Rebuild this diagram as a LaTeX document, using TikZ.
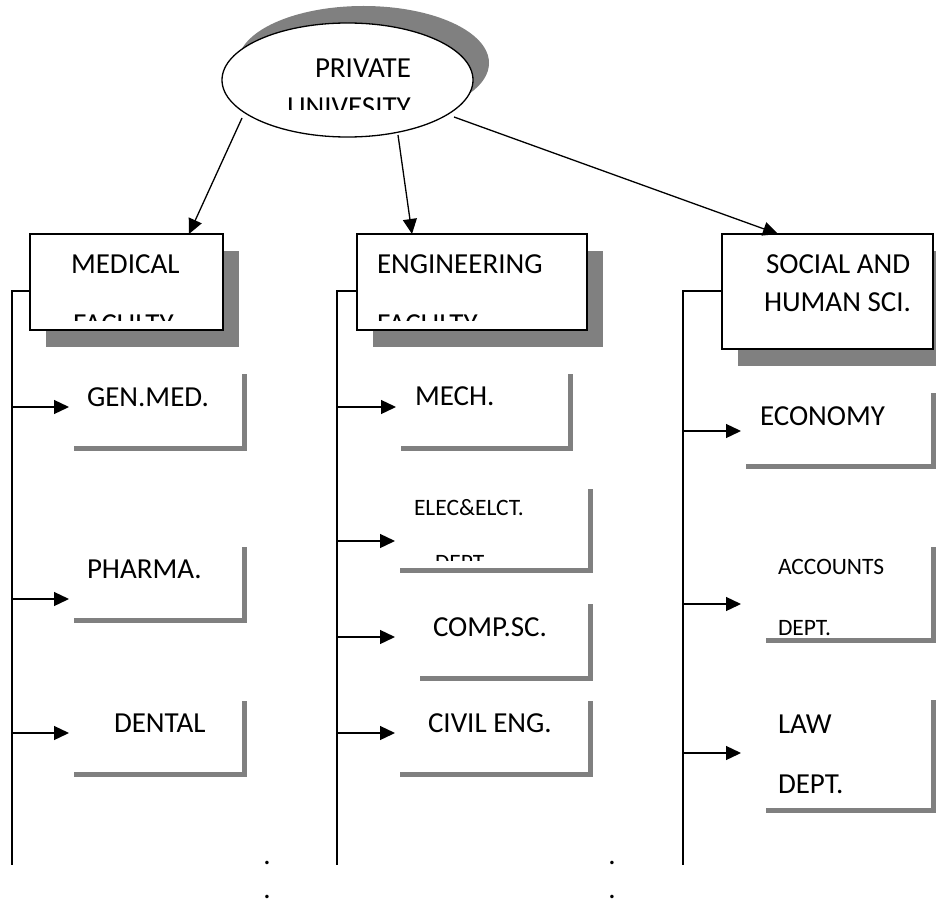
\documentclass[tikz,border=0pt]{standalone}
\usepackage{fontspec}
\setmainfont{Carlito}
\usetikzlibrary{shapes.geometric,shadows,arrows.meta,calc}
\definecolor{shgray}{HTML}{808080}
\begin{document}
\begin{tikzpicture}[x=1pt,y=-1pt,
  every node/.style={inner sep=0pt,outer sep=0pt},
  lbl/.style={anchor=base west,font=\fontsize{29}{35}\selectfont},
  lbls/.style={anchor=base west,font=\fontsize{23.5}{28}\selectfont},
  facbox/.style={draw,line width=1.4pt,fill=white,anchor=north west,
     drop shadow={shadow xshift=16pt,shadow yshift=-17pt,fill=shgray,opacity=1}},
  deptbox/.style={fill=white,anchor=north west,
     drop shadow={shadow xshift=5pt,shadow yshift=-5pt,fill=shgray,opacity=1}},
  link/.style={line width=1.3pt},
  arr/.style={line width=1.3pt,-{Triangle[length=15pt,width=14pt]}},
  dot/.style={anchor=base,font=\fontsize{29}{35}\selectfont}
]
\useasboundingbox (0,0) rectangle (936,901);

% ---- faculty boxes
\node[facbox,minimum width=193pt,minimum height=96pt] (med) at (30,234) {};
\node[facbox,minimum width=230pt,minimum height=96pt] (eng) at (357,234) {};
\node[facbox,minimum width=211pt,minimum height=115pt] (soc) at (722,234) {};

% ---- arrows from the university
\coordinate (s1) at (242,118);
\coordinate (s2) at (398,135);
\coordinate (s3) at (454,117);
\draw[arr] (s1) -- (med.north west -| 189,0);
\draw[arr] (s2) -- (eng.north west -| 412,0);
\draw[arr] (s3) -- (soc.north west -| 778,0);

% ---- university ellipse
\node[ellipse,draw,line width=1.3pt,fill=white,minimum width=251pt,minimum height=114pt,
  drop shadow={shadow xshift=16pt,shadow yshift=17pt,fill=shgray,opacity=1}] (uni) at (347.5,80) {};
\node[lbl] (t-private) at (315,78) {PRIVATE};
\begin{scope}
  \clip (230,60) rectangle (470,110);
  \node[lbl] (t-univ) at (287,116.5) {UNIVESITY};
\end{scope}

% ---- faculty texts
\node[lbl] (t-med) at (71,273) {MEDICAL};
\node[lbl] (t-eng) at (377,273) {ENGINEERING};
\begin{scope}
  \clip (31,235) rectangle (580,320);
  \node[lbl] (t-medf) at (73,333.5) {FACULTY};
  \node[lbl] (t-engf) at (377,333.5) {FACULTY};
\end{scope}
\node[lbl] (t-soc1) at (766,273) {SOCIAL AND};
\node[lbl] (t-soc2) at (764,311) {HUMAN SCI.};

% ---- department boxes
\node[deptbox,minimum width=173pt,minimum height=77pt] (gm) at (69,369) {};
\node[deptbox,minimum width=173pt,minimum height=76pt] (ph) at (69,542) {};
\node[deptbox,minimum width=173pt,minimum height=76pt] (de) at (69,696) {};
\node[deptbox,minimum width=172pt,minimum height=77pt] (me) at (396,369) {};
\node[deptbox,minimum width=193pt,minimum height=84pt] (el) at (395,484) {};
\node[deptbox,minimum width=173pt,minimum height=77pt] (cs) at (415,599) {};
\node[deptbox,minimum width=193pt,minimum height=76pt] (ce) at (395,696) {};
\node[deptbox,minimum width=190pt,minimum height=76pt] (ec) at (741,388) {};
\node[deptbox,minimum width=170pt,minimum height=96pt] (ac) at (761,542) {};
\node[deptbox,minimum width=170pt,minimum height=113pt] (la) at (761,695) {};

% ---- department texts
\node[lbl] (t-gm) at (87,406) {GEN.MED.};
\node[lbl] (t-ph) at (87,578) {PHARMA.};
\node[lbl] (t-de) at (114,732) {DENTAL};
\node[lbl] (t-me) at (415,405) {MECH.};
\node[lbls] (t-el) at (414,515) {ELEC\&ELCT.};
\begin{scope}
  \clip (396,485) rectangle (587,560);
  \node[lbls] (t-eld) at (435,570) {DEPT.};
\end{scope}
\node[lbl] (t-cs) at (433,636) {COMP.SC.};
\node[lbl] (t-ce) at (428,732) {CIVIL ENG.};
\node[lbl] (t-ec) at (760,425) {ECONOMY};
\node[lbls] (t-ac1) at (778,574) {ACCOUNTS};
\node[lbls] (t-ac2) at (778,635) {DEPT.};
\node[lbl] (t-la1) at (778,733) {LAW};
\node[lbl] (t-la2) at (778,793) {DEPT.};

% ---- trunks
\coordinate (mb) at (12,865);
\coordinate (eb) at (337,865);
\coordinate (sb) at (683,865);
\draw[link] (med.west |- 0,291) -| (mb);
\draw[link] (eng.west |- 0,291) -| (eb);
\draw[link] (soc.west |- 0,291) -| (sb);

% ---- branch arrows
\draw[arr] (mb |- 0,407) -- (gm.west |- 0,407);
\draw[arr] (mb |- 0,599) -- (ph.west |- 0,599);
\draw[arr] (mb |- 0,733) -- (de.west |- 0,733);
\draw[arr] (eb |- 0,407) -- (me.west |- 0,407);
\draw[arr] (eb |- 0,541) -- (el.west |- 0,541);
\draw[arr] (eb |- 0,637) -- (ce.west |- 0,637);
\draw[arr] (eb |- 0,733) -- (ce.west |- 0,733);
\draw[arr] (sb |- 0,431) -- (ec.west |- 0,431);
\draw[arr] (sb |- 0,604) -- (ec.west |- 0,604);
\draw[arr] (sb |- 0,753) -- (ec.west |- 0,753);

% ---- continuation dots
\node[dot] (d1) at (267,864) {.};
\node[dot] (d2) at (267,898) {.};
\node[dot] (d3) at (612,864) {.};
\node[dot] (d4) at (612,898) {.};
\end{tikzpicture}
\end{document}
